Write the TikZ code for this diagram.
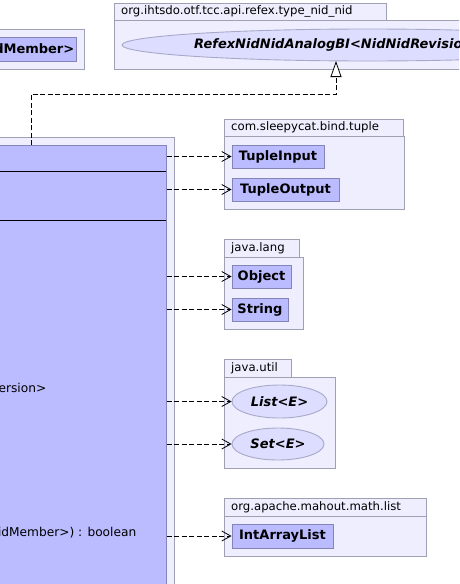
\documentclass[tikz,border=0pt]{standalone}
\usepackage{fontspec}
\setmainfont{DejaVu Sans}
\usetikzlibrary{arrows.meta,shapes.geometric}
\definecolor{pkgfill}{HTML}{EEEEFF}
\definecolor{pkgline}{HTML}{A0A0B4}
\definecolor{clsfill}{HTML}{BBBBFF}
\definecolor{clsline}{HTML}{8484B8}
\definecolor{iffill}{HTML}{DDDDFF}
\definecolor{ifline}{HTML}{A8A8C8}
\tikzset{
  pkgrect/.style={draw=pkgline, fill=pkgfill, line width=0.9pt, inner sep=0pt, anchor=north west},
  pkglabel/.style={anchor=west, inner sep=0pt, text height=9pt, text depth=2.5pt, font=\fontsize{11.7}{14}\selectfont},
  clsbox/.style={draw=clsline, fill=clsfill, line width=0.9pt, inner sep=0pt, font=\fontsize{13}{15}\selectfont\bfseries},
  ifbox/.style={ellipse, draw=ifline, fill=iffill, line width=0.9pt, inner sep=0pt, font=\fontsize{13}{15}\selectfont\bfseries\itshape},
  member/.style={anchor=east, inner sep=0pt, text height=9pt, text depth=2.5pt, font=\fontsize{12.2}{14}\selectfont},
  usesdep/.style={draw=black, line width=0.8pt, dash pattern=on 5pt off 2.5pt,
    -{Straight Barb[length=9pt,width=10pt,line width=0.8pt]}},
  realizes/.style={draw=black, line width=0.8pt, dash pattern=on 5pt off 2.5pt,
    -{Triangle[open,length=16pt,width=11pt,fill=white,line width=0.8pt]}},
}
\begin{document}
\begin{tikzpicture}[x=1pt,y=-1pt]
\useasboundingbox (0,0) rectangle (459,584);
\clip (0,0) rectangle (459,584);

% package holding the neighbouring class (top left)
\node[pkgrect, minimum width=100pt, minimum height=40pt] (leftpkg) at (-16,29) {};
\node[clsbox, anchor=north west, minimum width=92pt, minimum height=24pt] (leftcls) at (-16,37) {};
\node[anchor=east, inner sep=0pt, font=\fontsize{13}{15}\selectfont\bfseries] (leftname) at (74.5,49) {dMember>};

% package org.ihtsdo.otf.tcc.api.refex.type_nid_nid
\node[pkgrect, minimum width=272pt, minimum height=17pt] (refextab) at (114,3) {};
\node[pkglabel] (refexlbl) at (121,11.5) {org.ihtsdo.otf.tcc.api.refex.type\_nid\_nid};
\node[pkgrect, minimum width=360pt, minimum height=49pt] (refexpkg) at (114,20) {};
\node[ifbox, minimum width=492pt, minimum height=32pt] (refex) at (368,45) {};
\node[anchor=west, inner sep=0pt, font=\fontsize{13}{15}\selectfont\bfseries\itshape] (refexname) at (194,45) {RefexNidNidAnalogBI<NidNidRevisionBI>};

% package containing the main class
\node[pkgrect, minimum width=190pt, minimum height=470pt] (mainpkg) at (-16,137) {};
\node[clsbox, anchor=north west, minimum width=182pt, minimum height=460pt] (mainc) at (-16,145) {};
\draw[black, line width=0.9pt] (-16,171.5) -- (166,171.5);
\draw[black, line width=0.9pt] (-16,220) -- (166,220);
\node[member] (m1) at (46.5,389) {ersion>};
\node[member] (m2) at (136.5,533) {idMember>) : boolean};

% package com.sleepycat.bind.tuple
\node[pkgrect, minimum width=179pt, minimum height=17pt] (tupletab) at (224,119) {};
\node[pkglabel] (tuplelbl) at (231,127.5) {com.sleepycat.bind.tuple};
\node[pkgrect, minimum width=180pt, minimum height=73pt] (tuplepkg) at (224,136) {};
\node[clsbox, minimum width=92pt, minimum height=23pt] (tin) at (278,156.5) {TupleInput};
\node[clsbox, minimum width=107pt, minimum height=23pt] (tout) at (285.5,189.5) {TupleOutput};

% package java.lang
\node[pkgrect, minimum width=75pt, minimum height=18pt] (langtab) at (224,239) {};
\node[pkglabel] (langlbl) at (231,248) {java.lang};
\node[pkgrect, minimum width=79pt, minimum height=72pt] (langpkg) at (224,257) {};
\node[clsbox, minimum width=59pt, minimum height=23pt] (obj) at (261.5,276.5) {Object};
\node[clsbox, minimum width=56pt, minimum height=23pt] (str) at (260,309.5) {String};

% package java.util
\node[pkgrect, minimum width=67pt, minimum height=18pt] (utiltab) at (224,359) {};
\node[pkglabel] (utillbl) at (231,368) {java.util};
\node[pkgrect, minimum width=111pt, minimum height=91pt] (utilpkg) at (224,377) {};
\node[ifbox, minimum width=95pt, minimum height=33pt] (lst) at (279.5,401.5) {List<E>};
\node[ifbox, minimum width=92pt, minimum height=32pt] (set) at (278,444) {Set<E>};

% package org.apache.mahout.math.list
\node[pkgrect, minimum width=202pt, minimum height=18pt] (mahouttab) at (224,498) {};
\node[pkglabel] (mahoutlbl) at (231,507) {org.apache.mahout.math.list};
\node[pkgrect, minimum width=202pt, minimum height=40pt] (mahoutpkg) at (224,516) {};
\node[clsbox, minimum width=101pt, minimum height=24pt] (ial) at (282.5,536) {IntArrayList};

% realization of the interface
\coordinate (src) at (31,145);
\coordinate (rfoot) at (336,61);
\draw[realizes] (src) -- (31,94) -- (336,94) -- (rfoot);

% usage dependencies
\draw[usesdep] (mainc.east |- tin.west) -- (tin.west);
\draw[usesdep] (mainc.east |- tout.west) -- (tout.west);
\draw[usesdep] (mainc.east |- obj.west) -- (obj.west);
\draw[usesdep] (mainc.east |- str.west) -- (str.west);
\draw[usesdep] (mainc.east |- lst.west) -- (lst.west);
\draw[usesdep] (mainc.east |- set.west) -- (set.west);
\draw[usesdep] (mainc.east |- ial.west) -- (ial.west);
\end{tikzpicture}
\end{document}
